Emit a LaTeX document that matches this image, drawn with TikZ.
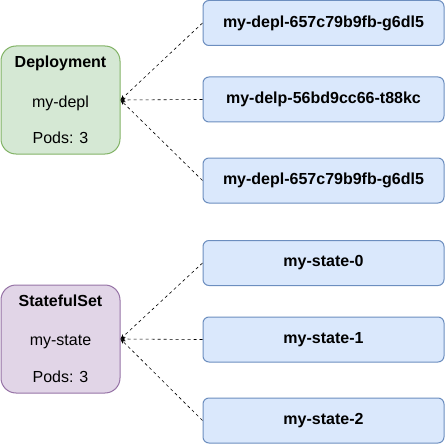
\documentclass[tikz,border=0pt]{standalone}
\usepackage{fontspec}
\setmainfont{Liberation Sans}
\usepackage{xcolor}
\usepackage{tikz}
\usetikzlibrary{
  arrows.meta
}
\definecolor{deplfill}{HTML}{D5E8D4}
\definecolor{depldraw}{HTML}{82B366}
\definecolor{statefill}{HTML}{E1D5E7}
\definecolor{statedraw}{HTML}{9673A6}
\definecolor{podfill}{HTML}{DAE8FC}
\definecolor{poddraw}{HTML}{6C8EBF}

\begin{document}
\begin{tikzpicture}[x=1pt,y=-1pt,
  ctrl/.style={draw, line width=1pt, rounded corners=15pt, minimum width=119pt,
    minimum height=108pt, align=center, inner sep=0pt,
    font=\fontsize{16}{19}\selectfont},
  pod/.style={draw=poddraw, fill=podfill, line width=1pt, rounded corners=6pt,
    minimum width=241pt, minimum height=45pt, inner sep=0pt,
    font=\fontsize{16}{19}\selectfont\bfseries},
  owner/.style={line width=0.6pt, dash pattern=on 3pt off 3pt,
    -{Stealth[length=5pt,width=4pt]}}
]
  \useasboundingbox (0,0) rectangle (445,444);
  % controllers
  \node[ctrl, draw=depldraw, fill=deplfill] (depl) at (60.5,100)
    {\textbf{Deployment}\\[21pt]my-depl\\[17pt]Pods: 3};
  \node[ctrl, draw=statedraw, fill=statefill] (state) at (60.5,339)
    {\textbf{StatefulSet}\\[20pt]my-state\\[18pt]Pods: 3};
  % pods
  \node[pod] (dp1) at (323.5,23)    {my-depl-657c79b9fb-g6dl5};
  \node[pod] (dp2) at (323.5,99.5)  {my-delp-56bd9cc66-t88kc};
  \node[pod] (dp3) at (323.5,180.5) {my-depl-657c79b9fb-g6dl5};
  \node[pod] (sp0) at (323.5,263)   {my-state-0};
  \node[pod] (sp1) at (323.5,339.5) {my-state-1};
  \node[pod] (sp2) at (323.5,420.5) {my-state-2};
  % owner references
  \foreach \p in {dp1,dp2,dp3}{
    \draw[owner] (\p.west) -- (depl.east);
  }
  \foreach \p in {sp0,sp1,sp2}{
    \draw[owner] (\p.west) -- (state.east);
  }
\end{tikzpicture}
\end{document}
